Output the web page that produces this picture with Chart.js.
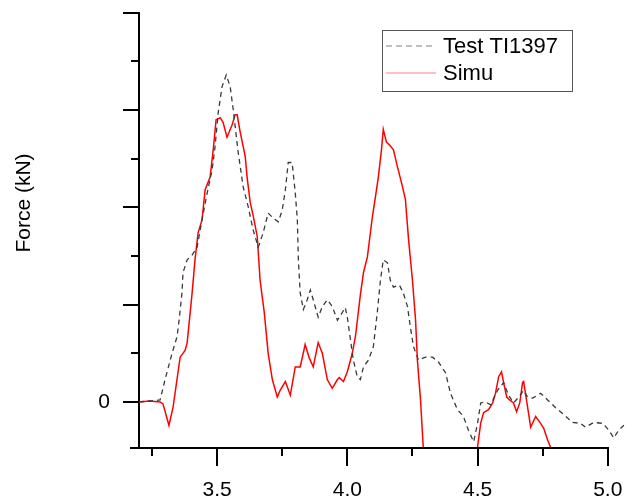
<!DOCTYPE html>
<html>
<head>
<meta charset="utf-8">
<script src="https://cdn.jsdelivr.net/npm/chart.js@4"></script>
<style>
  html, body { margin: 0; padding: 0; background: #fff; }
  #wrap { width: 644px; height: 499px; }
</style>
</head>
<body>
<div id="wrap"><canvas id="chart" width="644" height="499"></canvas></div>
<script>
// Test TI1397 (dashed)
const testTime = [
  3.200, 3.281, 3.300, 3.327, 3.346, 3.354, 3.365, 3.369, 3.385, 3.404,
  3.423, 3.442, 3.462, 3.481, 3.492, 3.504, 3.519, 3.535, 3.550, 3.562,
  3.581, 3.600, 3.619, 3.638, 3.658, 3.677, 3.696, 3.715, 3.735, 3.750,
  3.762, 3.773, 3.788, 3.800, 3.808, 3.812, 3.819, 3.831, 3.846, 3.858,
  3.869, 3.888, 3.904, 3.923, 3.942, 3.962, 3.981, 3.992, 4.000, 4.012,
  4.023, 4.038, 4.050, 4.062, 4.081, 4.100, 4.115, 4.127, 4.138, 4.154,
  4.165, 4.177, 4.200, 4.215, 4.231, 4.242, 4.254, 4.273, 4.300, 4.327,
  4.350, 4.377, 4.396, 4.423, 4.446, 4.465, 4.485, 4.500, 4.512, 4.531,
  4.550, 4.577, 4.600, 4.619, 4.638, 4.658, 4.677, 4.692, 4.712, 4.742,
  4.769, 4.800, 4.831, 4.865, 4.896, 4.915, 4.946, 4.981, 5.004, 5.023,
  5.042, 5.062
];
const testForce = [
  0, 0.02, 0.23, 0.50, 0.67, 0.84, 1.12, 1.33, 1.46, 1.51,
  1.59, 1.87, 2.15, 2.39, 2.62, 2.97, 3.24, 3.36, 3.24, 3.00,
  2.56, 2.21, 2.01, 1.77, 1.59, 1.74, 1.94, 1.89, 1.85, 1.97,
  2.18, 2.46, 2.46, 2.15, 1.87, 1.46, 1.12, 0.95, 1.05, 1.15,
  1.05, 0.87, 0.98, 1.05, 0.98, 0.84, 0.92, 0.97, 0.87, 0.64,
  0.43, 0.26, 0.23, 0.36, 0.43, 0.57, 0.92, 1.25, 1.46, 1.43,
  1.25, 1.18, 1.20, 1.12, 0.98, 0.77, 0.57, 0.43, 0.46, 0.46,
  0.41, 0.30, 0.09, -0.08, -0.15, -0.29, -0.41, -0.22, -0.01, 0,
  -0.03, 0.12, 0.20, 0.07, -0.01, 0.05, 0.12, 0.05, 0.04, 0.09,
  0.02, -0.06, -0.13, -0.21, -0.22, -0.26, -0.21, -0.22, -0.29, -0.37,
  -0.29, -0.24
];

// Simu (red)
const simuTime = [
  3.200, 3.240, 3.281, 3.292, 3.315, 3.331, 3.358, 3.377, 3.385, 3.404,
  3.415, 3.427, 3.442, 3.454, 3.473, 3.485, 3.496, 3.512, 3.523, 3.538,
  3.558, 3.569, 3.577, 3.588, 3.608, 3.615, 3.627, 3.638, 3.654, 3.665,
  3.681, 3.696, 3.712, 3.731, 3.742, 3.762, 3.781, 3.800, 3.819, 3.838,
  3.854, 3.869, 3.888, 3.904, 3.923, 3.942, 3.962, 3.969, 3.985, 4.000,
  4.019, 4.031, 4.050, 4.062, 4.077, 4.096, 4.108, 4.119, 4.131, 4.138,
  4.150, 4.162, 4.177, 4.192, 4.212, 4.223, 4.235, 4.250, 4.262, 4.269,
  4.281, 4.292, 4.304, 4.492, 4.500, 4.512, 4.523, 4.542, 4.558, 4.569,
  4.581, 4.592, 4.600, 4.612, 4.623, 4.638, 4.650, 4.662, 4.673, 4.677,
  4.692, 4.704, 4.723, 4.742, 4.754, 4.769, 4.781, 4.808
];
const simuForce = [
  0, 0.01, 0, -0.02, -0.24, -0.05, 0.46, 0.53, 0.61, 1.12,
  1.46, 1.74, 1.87, 2.18, 2.31, 2.59, 2.90, 2.92, 2.87, 2.72,
  2.85, 2.95, 2.95, 2.78, 2.52, 2.31, 2.05, 1.92, 1.70, 1.25,
  0.92, 0.50, 0.23, 0.05, 0.12, 0.21, 0.07, 0.36, 0.36, 0.59,
  0.45, 0.36, 0.61, 0.50, 0.23, 0.14, 0.23, 0.25, 0.21, 0.31,
  0.50, 0.67, 1.10, 1.33, 1.49, 1.90, 2.11, 2.31, 2.59, 2.80,
  2.67, 2.64, 2.59, 2.42, 2.21, 2.08, 1.67, 1.25, 0.84, 0.43,
  0.02, -0.49, -1.0, -1.0, -0.46, -0.22, -0.11, -0.08, -0.01, 0.09,
  0.26, 0.31, 0.20, 0.05, 0.02, -0.01, -0.10, -0.01, 0.20, 0.21,
  -0.05, -0.26, -0.15, -0.22, -0.27, -0.39, -0.47, -0.47
];

const xMin = 3.2, xMax = 5.07;   // plotting window
const xAxisEnd = 5.0;            // the drawn axis line stops here
const yMin = -0.473, yMax = 4.0;
const seriesNames = ['Test TI1397', 'Simu'];

const FONT = 'Liberation Sans, Arial, sans-serif';

function toPoints(xs, ys) {
  return xs.map((x, i) => ({ x: x, y: ys[i] }));
}

// axis line, ticks, title and legend box
const decor = {
  id: 'decor',
  afterDraw(chart) {
    const ctx = chart.ctx;
    const xs = chart.scales.x, ys = chart.scales.y;
    const area = chart.chartArea;
    ctx.save();
    ctx.strokeStyle = '#000';
    ctx.lineWidth = 2;
    ctx.beginPath();
    ctx.moveTo(area.left - 9, area.bottom);
    ctx.lineTo(Math.round(xs.getPixelForValue(xAxisEnd)) + 1, area.bottom);
    xs.ticks.forEach(t => {
      if (t.value > xAxisEnd + 1e-9) return;
      const px = Math.round(xs.getPixelForValue(t.value));
      const major = Math.abs(t.value * 2 - Math.round(t.value * 2)) < 1e-6;
      ctx.moveTo(px, area.bottom);
      ctx.lineTo(px, area.bottom + (major ? 18 : 8));
    });
    ys.ticks.forEach(t => {
      const py = Math.round(ys.getPixelForValue(t.value));
      const major = Math.abs(t.value - Math.round(t.value)) < 1e-6;
      ctx.moveTo(area.left, py);
      ctx.lineTo(area.left - (major ? 16 : 8), py);
    });
    ctx.stroke();

    // y title
    ctx.fillStyle = '#000';
    ctx.font = '21px ' + FONT;
    ctx.textAlign = 'center';
    ctx.textBaseline = 'middle';
    ctx.translate(24, 203);
    ctx.rotate(-Math.PI / 2);
    ctx.fillText('Force (kN)', 0, 0);
    ctx.restore();

    // legend
    ctx.save();
    ctx.strokeStyle = '#555';
    ctx.lineWidth = 1;
    ctx.strokeRect(382.5, 30.5, 190, 61);
    const rows = [
      { name: seriesNames[0], color: '#aaaaaa', dash: [6, 4], y: 46 },
      { name: seriesNames[1], color: '#ffaaaa', dash: [], y: 73 }
    ];
    rows.forEach(r => {
      ctx.beginPath();
      ctx.setLineDash(r.dash);
      ctx.strokeStyle = r.color;
      ctx.lineWidth = 1.5;
      ctx.moveTo(386, r.y);
      ctx.lineTo(436, r.y);
      ctx.stroke();
      ctx.setLineDash([]);
      ctx.fillStyle = '#000';
      ctx.font = '22px ' + FONT;
      ctx.textAlign = 'left';
      ctx.textBaseline = 'middle';
      ctx.fillText(r.name, 443, r.y + 1);
    });
    ctx.restore();
  }
};

new Chart(document.getElementById('chart'), {
  type: 'line',
  data: {
    datasets: [
      {
        label: seriesNames[0],
        data: toPoints(testTime, testForce),
        borderColor: '#3a3a3a',
        borderWidth: 1.3,
        borderDash: [5, 4],
        pointRadius: 0,
        tension: 0
      },
      {
        label: seriesNames[1],
        data: toPoints(simuTime, simuForce),
        borderColor: '#ff0000',
        borderWidth: 1.5,
        pointRadius: 0,
        tension: 0
      }
    ]
  },
  options: {
    responsive: false,
    animation: false,
    layout: { padding: { left: 0, top: 0, right: 18, bottom: 0 } },
    plugins: {
      legend: { display: false },
      tooltip: { enabled: false }
    },
    scales: {
      x: {
        type: 'linear',
        min: xMin,
        max: xMax,
        afterFit(scale) { scale.height = 51; },
        ticks: {
          stepSize: 0.25,
          includeBounds: false,
          autoSkip: false,
          maxRotation: 0,
          padding: 12,
          color: '#000',
          font: { family: FONT, size: 21 },
          callback: v => (v <= xAxisEnd + 1e-9 && Math.abs(v * 2 - Math.round(v * 2)) < 1e-6 ? Number(v).toFixed(1) : '')
        },
        grid: { display: false, drawTicks: true, tickLength: 18 },
        border: { display: false }
      },
      y: {
        min: yMin,
        max: yMax,
        afterFit(scale) { scale.width = 139; },
        ticks: {
          stepSize: 0.5,
          includeBounds: false,
          autoSkip: false,
          padding: 0,
          color: '#000',
          font: { family: FONT, size: 21 },
          callback: v => (Math.abs(v) < 1e-9 ? '0' : '')
        },
        grid: { display: false, drawTicks: true, tickLength: 29 },
        border: { display: true, color: '#000', width: 2 }
      }
    }
  },
  plugins: [decor]
});
</script>
</body>
</html>
